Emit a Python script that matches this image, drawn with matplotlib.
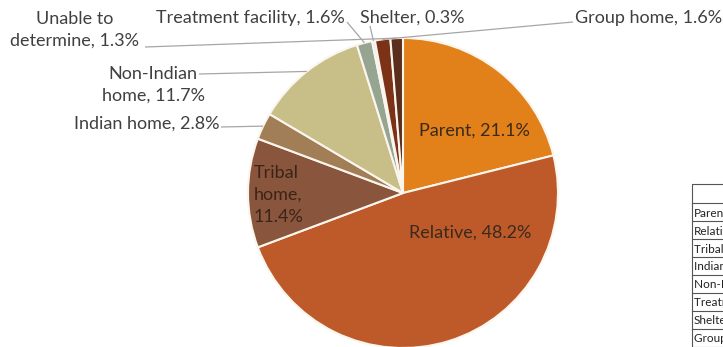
import numpy as np
import matplotlib
matplotlib.use("Agg")
import matplotlib.pyplot as plt
from matplotlib.patches import Rectangle

# Placement outcomes (share of placements, %)
categories = ["Parent", "Relative", "Tribal home", "Indian home", "Non-Indian home",
              "Treatment facility", "Shelter", "Group home", "Unable to determine"]
shares = [21.1, 48.2, 11.4, 2.8, 11.7, 1.6, 0.3, 1.6, 1.3]
colors = ["#E2801A", "#BE5A29", "#8A553D", "#A17E55", "#C8BE88",
          "#96A592", "#ECE8DF", "#7B3217", "#5B2D1D"]
table_rows = ["Parent", "Relative", "Tribal home", "Indian home", "Non-Indian home",
              "Treatment facility", "Shelter", "Group home"]

W, H = 723, 347
fig = plt.figure(figsize=(W / 100, H / 100), dpi=100)
ax = fig.add_axes([0, 0, 1, 1])

FONT = "Lato"
FS = 13
TXT = "#404040"
cx, cy, R = 403, 193, 155

# y axis runs downward, so counterclock=True draws clockwise on screen
wedges, _ = ax.pie(shares, colors=colors, startangle=-90, counterclock=True,
                   center=(cx, cy), radius=R, frame=True,
                   wedgeprops=dict(edgecolor="#FAF6EE", linewidth=1.5))
ax.set_xlim(0, W)
ax.set_ylim(H, 0)
ax.set_aspect("auto")
ax.axis("off")


def edge_point(i, frac=1.0):
    w = wedges[i]
    a = np.deg2rad((w.theta1 + w.theta2) / 2)
    return cx + frac * R * np.cos(a), cy + frac * R * np.sin(a)


def label(i, text, tx, ty, lx, ly, ha="left"):
    ax.text(tx, ty, text, ha=ha, va="center", fontsize=FS, family=FONT,
            color=TXT, linespacing=1.45)
    ex, ey = edge_point(i)
    ax.plot([lx, ex], [ly, ey], color="#A6A6A6", lw=0.9, solid_capstyle="butt")


def pct(i):
    return f"{shares[i]:.1f}%"


# Inside labels
ax.text(474, 131, f"Parent, {pct(0)}", ha="center", va="center", fontsize=FS,
        family=FONT, color="#3A2A1E")
ax.text(470, 233, f"Relative, {pct(1)}", ha="center", va="center", fontsize=FS,
        family=FONT, color="#3A2A1E")
ax.text(254, 195, f"Tribal\nhome,\n{pct(2)}", ha="left", va="center", fontsize=FS,
        family=FONT, color="#3A2418", linespacing=1.45)

# Outside labels with leader lines
label(3, f"Indian home, {pct(3)}", 219, 124, 221, 127, ha="right")
label(4, f"Non-Indian\nhome, {pct(4)}", 153, 85, 199, 74, ha="center")
label(5, f"Treatment facility, {pct(5)}", 345, 18, 347, 22, ha="right")
label(6, f"Shelter, {pct(6)}", 360, 18, 370, 26, ha="left")
label(7, f"Group home, {pct(7)}", 575, 18, 573, 22, ha="left")
label(8, f"Unable to\ndetermine, {pct(8)}", 75, 30, 145, 47, ha="center")

# Data table at the right edge
tx0, ty0, hdr_h, row_h = 692, 184, 19, 18
n = len(table_rows)
ax.add_patch(Rectangle((tx0, ty0), 60, hdr_h + n * row_h, fill=False,
                       edgecolor="#555555", lw=0.8, clip_on=True))
ax.plot([tx0, W + 5], [ty0 + hdr_h, ty0 + hdr_h], color="#555555", lw=0.8)
for k, name in enumerate(table_rows):
    y = ty0 + hdr_h + k * row_h
    if k > 0:
        ax.plot([tx0, W + 5], [y, y], color="#555555", lw=0.8)
    ax.text(tx0 + 2, y + row_h / 2 + 1, name, ha="left", va="center",
            fontsize=8.5, family=FONT, color="#222222")

fig.savefig("out.png", dpi=100, facecolor="white")
